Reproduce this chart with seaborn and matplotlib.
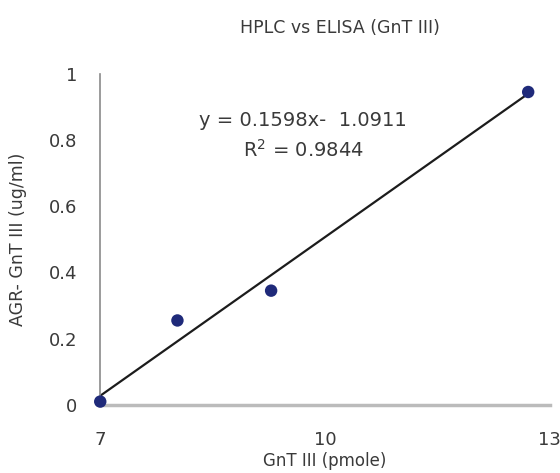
import numpy as np
import pandas as pd
import seaborn as sns
import matplotlib
matplotlib.use("Agg")
import matplotlib.pyplot as plt

# data
gnt_pmole = [7.0, 8.03, 9.28, 12.71]
agr_ugml = [0.01, 0.255, 0.345, 0.945]
slope = 0.1598
intercept = -1.0911
r_squared = 0.9844
x_ticks = [7, 10, 13]
y_ticks = [0, 0.2, 0.4, 0.6, 0.8, 1]
y_tick_labels = ["0", "0.2", "0.4", "0.6", "0.8", "1"]

df = pd.DataFrame({"x": gnt_pmole, "y": agr_ugml})

sns.set_style("white")
plt.rcParams["font.family"] = ["DejaVu Sans"]

txt = "#3a3a3a"

fig = plt.figure(figsize=(5.6, 4.73), dpi=100)
ax = fig.add_axes([0.179, 0.144, 0.803, 0.700])

# trend line from the fitted equation
xs = np.array([min(gnt_pmole), max(gnt_pmole)])
sns.lineplot(x=xs, y=slope * xs + intercept, ax=ax, color="#1c1c1c", linewidth=1.6)
sns.scatterplot(data=df, x="x", y="y", ax=ax, color="#1f2a7a", s=80,
                edgecolor="none", zorder=5, clip_on=False)

ax.set_xlim(7, 13)
ax.set_ylim(0, 1)
ax.set_xticks(x_ticks)
ax.set_yticks(y_ticks)
ax.set_yticklabels(y_tick_labels)
ax.tick_params(axis="both", direction="inout", length=5, width=0.8,
               color="#aaaaaa", labelsize=13, labelcolor=txt)
ax.tick_params(axis="x", pad=16)
ax.tick_params(axis="y", pad=14)

for side in ["top", "right"]:
    ax.spines[side].set_visible(False)
ax.spines["left"].set_color("#8a8a8a")
ax.spines["left"].set_linewidth(1.2)
ax.spines["bottom"].set_color("#bbbbbb")
ax.spines["bottom"].set_linewidth(2.5)

ax.set_xlabel("GnT III (pmole)", fontsize=12, color=txt, va="center")
ax.set_ylabel("AGR- GnT III (ug/ml)", fontsize=12.5, color=txt, va="center")
ax.xaxis.set_label_coords(0.5, -0.169)
ax.yaxis.set_label_coords(-0.182, 0.5)

ax.text(9.71, 0.86, f"y = {slope}x-  {abs(intercept)}", ha="center", va="center",
        fontsize=14, color=txt)
ax.text(9.71, 0.77, f"R$^2$ = {r_squared}", ha="center", va="center",
        fontsize=14, color=txt)

fig.text(340 / 560, 1 - 28 / 473, "HPLC vs ELISA (GnT III)", ha="center",
         va="center", fontsize=12.5, color=txt)

fig.savefig("out.png", dpi=100)
